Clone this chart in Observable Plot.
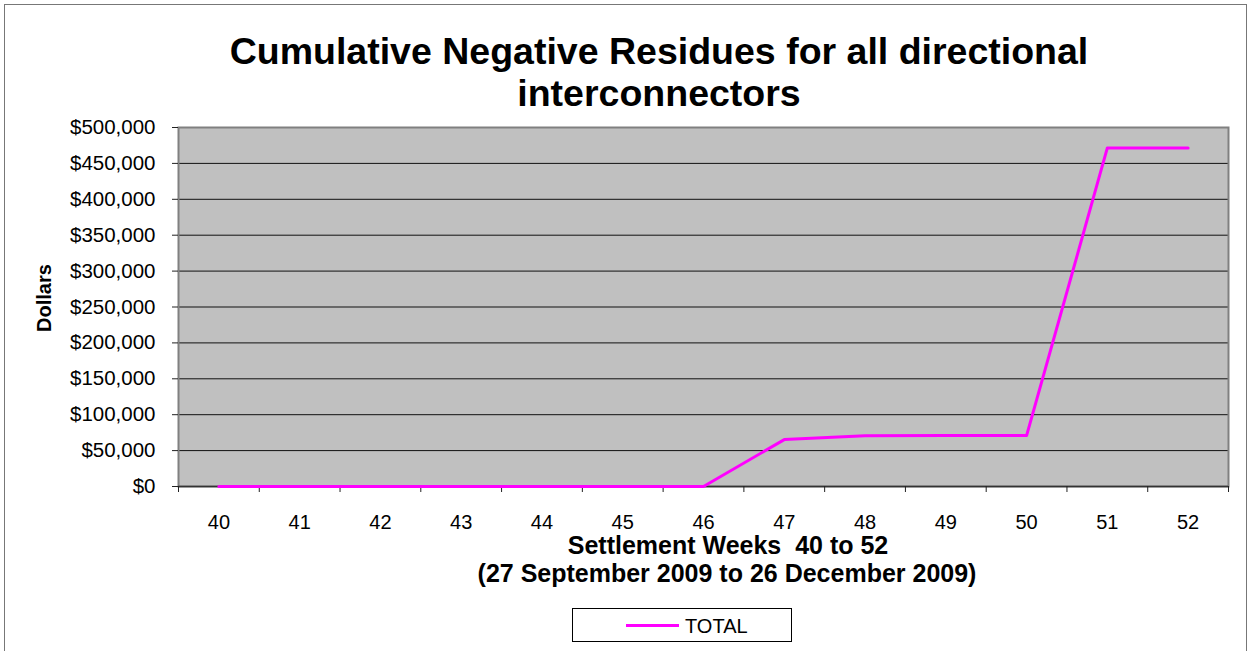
<!DOCTYPE html>
<html>
<head>
<meta charset="utf-8">
<script src="https://cdn.jsdelivr.net/npm/d3@7"></script>
<script src="https://cdn.jsdelivr.net/npm/@observablehq/plot@0.6"></script>
<style>
  html, body { margin: 0; padding: 0; background: #fff; }
  body { width: 1250px; height: 651px; position: relative; overflow: hidden;
         font-family: "Liberation Sans", Arial, sans-serif; color: #000; }
  #frame { position: absolute; left: 4px; top: 4px; width: 1243px; height: 700px;
           border: 1.5px solid #777; box-sizing: border-box; }
  .t { position: absolute; white-space: nowrap; line-height: 1; font-weight: bold; }
  .title { font-size: 37.5px; transform: translateX(-50%); }
  .xt { font-size: 25px; transform: translateX(-50%); }
  #ylab { position: absolute; left: 44px; top: 298px; font-size: 20px; font-weight: bold;
          transform: translate(-50%, -50%) rotate(-90deg); white-space: nowrap; line-height: 1; }
  #chart { position: absolute; left: 0; top: 110px; }
  #legend { position: absolute; left: 572px; top: 608px; width: 220px; height: 34px;
            border: 1px solid #000; box-sizing: border-box; background: #fff; }
  #legline { position: absolute; left: 53px; top: 15px; width: 53px; height: 3px; background: #FF00FF; }
  #legtext { position: absolute; left: 112px; top: 7px; font-size: 20px; line-height: 1; }
</style>
</head>
<body>
<div id="frame"></div>
<div class="t title" style="left:659px; top:32.6px;">Cumulative Negative Residues for all directional</div>
<div class="t title" style="left:659px; top:75.3px;">interconnectors</div>
<div id="ylab">Dollars</div>
<div id="chart"></div>
<div class="t xt" style="left:728px; top:533px;">Settlement Weeks&nbsp;&nbsp;40 to 52</div>
<div class="t xt" style="left:727px; top:561px;">(27 September 2009 to 26 December 2009)</div>
<div id="legend"><div id="legline"></div><div id="legtext">TOTAL</div></div>
<script>
// ---- data ----
const weeks  = [40, 41, 42, 43, 44, 45, 46, 47, 48, 49, 50, 51, 52];
const totals = [0, 0, 0, 0, 0, 0, 0, 65300, 70800, 70900, 70900, 471500, 471500];
const yTicks = [0, 50000, 100000, 150000, 200000, 250000, 300000, 350000, 400000, 450000, 500000];
const seriesName = "TOTAL";

const data = weeks.map((w, i) => ({week: w, value: totals[i], series: seriesName}));
const boundaries = weeks.map(w => w - 0.5).concat([weeks[weeks.length - 1] + 0.5]);
const money = d3.format("$,.0f");

const chart = Plot.plot({
  width: 1250,
  height: 440,
  marginLeft: 178,
  marginRight: 22,
  marginTop: 17,
  marginBottom: 64,
  style: { fontFamily: "Liberation Sans, Arial, sans-serif", fontSize: "20px", background: "transparent", color: "#000", overflow: "visible" },
  x: { type: "linear", domain: [weeks[0] - 0.5, weeks[weeks.length - 1] + 0.5] },
  y: { domain: [0, 500000] },
  marks: [
    Plot.frame({ fill: "#C0C0C0", stroke: null }),
    Plot.ruleY(yTicks.filter(d => d > 0 && d < 500000), { stroke: "#111", strokeWidth: 1 }),
    Plot.frame({ stroke: "#808080", strokeWidth: 2 }),
    Plot.ruleY([0], { stroke: "#333", strokeWidth: 1.5 }),
    Plot.axisY({ ticks: yTicks, tickFormat: money, tickSize: 6, tickPadding: 17, stroke: "#222", fontSize: 20.5, label: null }),
    Plot.axisX({ ticks: boundaries, tickFormat: () => "", tickSize: 6, stroke: "#222", label: null }),
    Plot.axisX({ ticks: weeks, tickFormat: d => String(d), tickSize: 0, tickPadding: 28, fontSize: 20, label: null }),
    Plot.line(data, { x: "week", y: "value", stroke: "#FF00FF", strokeWidth: 3 })
  ]
});
document.getElementById("chart").appendChild(chart);
</script>
</body>
</html>
